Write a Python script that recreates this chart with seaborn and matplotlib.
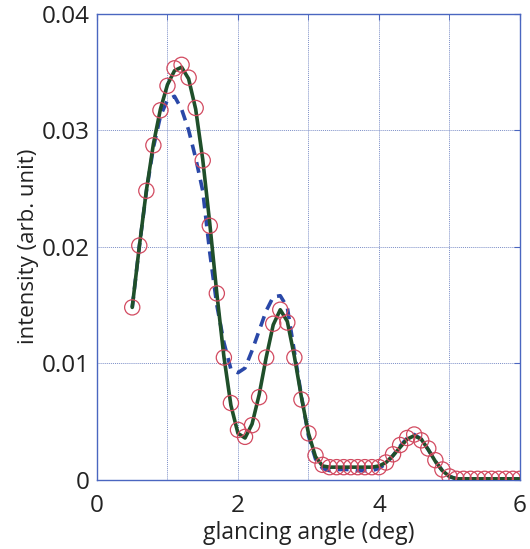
import numpy as np
import pandas as pd
import matplotlib
matplotlib.use("Agg")
import matplotlib.pyplot as plt
import seaborn as sns

# ── data ────────────────────────────────────────────────────
angle = np.round(np.arange(0.5, 6.01, 0.1), 2)

measured = [0.0148, 0.0201, 0.0248, 0.0287, 0.0317, 0.0338, 0.0353, 0.0356,
            0.0345, 0.0319, 0.0274, 0.0218, 0.0160, 0.0105, 0.0066, 0.0043,
            0.0037, 0.0047, 0.0071, 0.0105, 0.0134, 0.0146, 0.0135, 0.0105,
            0.0069, 0.0040, 0.0021, 0.0013, 0.0011, 0.0011, 0.0011, 0.0011,
            0.0011, 0.0011, 0.0011, 0.0011, 0.0015, 0.0022, 0.0030, 0.0036,
            0.0039, 0.0034, 0.0027, 0.0017, 0.0009, 0.0003, 0.0001, 0.0001,
            0.0001, 0.0001, 0.0001, 0.0001, 0.0001, 0.0001, 0.0001, 0.0001]

fit_full = [0.0148, 0.0200, 0.0248, 0.0288, 0.0318, 0.0339, 0.0351, 0.0354,
            0.0344, 0.0318, 0.0275, 0.0220, 0.0160, 0.0106, 0.0064, 0.0040,
            0.0036, 0.0048, 0.0073, 0.0105, 0.0133, 0.0146, 0.0136, 0.0106,
            0.0071, 0.0040, 0.0020, 0.0012, 0.0011, 0.0011, 0.0011, 0.0011,
            0.0011, 0.0011, 0.0011, 0.0012, 0.0015, 0.0021, 0.0028, 0.0035,
            0.0038, 0.0035, 0.0026, 0.0016, 0.0008, 0.0003, 0.0001, 0.0001,
            0.0001, 0.0001, 0.0001, 0.0001, 0.0001, 0.0001, 0.0001, 0.0001]

fit_simple = [0.0148, 0.0200, 0.0247, 0.0285, 0.0312, 0.0326, 0.0329, 0.0318,
              0.0300, 0.0276, 0.0248, 0.0195, 0.0150, 0.0118, 0.0095, 0.0092,
              0.0096, 0.0111, 0.0128, 0.0145, 0.0157, 0.0158, 0.0148, 0.0110,
              0.0072, 0.0038, 0.0018, 0.0010, 0.0008, 0.0009, 0.0009, 0.0009,
              0.0008, 0.0008, 0.0008, 0.0010, 0.0014, 0.0021, 0.0029, 0.0036,
              0.0039, 0.0035, 0.0026, 0.0016, 0.0008, 0.0003, 0.0001, 0.0001,
              0.0001, 0.0001, 0.0001, 0.0001, 0.0001, 0.0001, 0.0001, 0.0001]

df = pd.DataFrame({"angle": angle, "measured": measured,
                   "fit_full": fit_full, "fit_simple": fit_simple})

# ── plot ─────────────────────────────────────────────────────
sns.set_style("white")
plt.rcParams["font.family"] = ["Open Sans", "DejaVu Sans"]

spine_c = "#4a66c0"
fig = plt.figure(figsize=(5.30, 5.49), dpi=100)
ax = fig.add_axes([0.183, 0.1257, 0.798, 0.8497])

sns.lineplot(data=df, x="angle", y="fit_simple", ax=ax, color="#2a48a8",
             lw=2.6, linestyle=(0, (3, 2)), zorder=3)
sns.lineplot(data=df, x="angle", y="fit_full", ax=ax, color="#1f4f2a",
             lw=2.6, zorder=4)
sns.scatterplot(data=df, x="angle", y="measured", ax=ax, marker="o", s=120,
                facecolor="none", edgecolor="#d24a60", linewidth=0.9, zorder=5)

ax.set_xlim(0, 6)
ax.set_ylim(0, 0.04)
ax.set_xticks([0, 2, 4, 6])
ax.set_xticks([1, 3, 5], minor=True)
ax.set_yticks([0, 0.01, 0.02, 0.03, 0.04])
ax.set_yticklabels(["0", "0.01", "0.02", "0.03", "0.04"])
ax.grid(True, which="both", linestyle=(0, (1, 1)), color="#7d8fc8", lw=0.7)
ax.set_axisbelow(True)

for s in ax.spines.values():
    s.set_color(spine_c)
    s.set_linewidth(1.0)
ax.tick_params(which="both", direction="in", length=4, color=spine_c,
               top=True, right=True, labelsize=17.5, labelcolor="#222222")
ax.tick_params(axis="x", pad=10)
ax.tick_params(axis="y", pad=5)

ax.set_xlabel("glancing angle (deg)", fontsize=16.5, color="#222222", labelpad=2)
ax.set_ylabel("intensity (arb. unit)", fontsize=16, color="#222222", labelpad=2)

fig.savefig("out.png", dpi=100)
